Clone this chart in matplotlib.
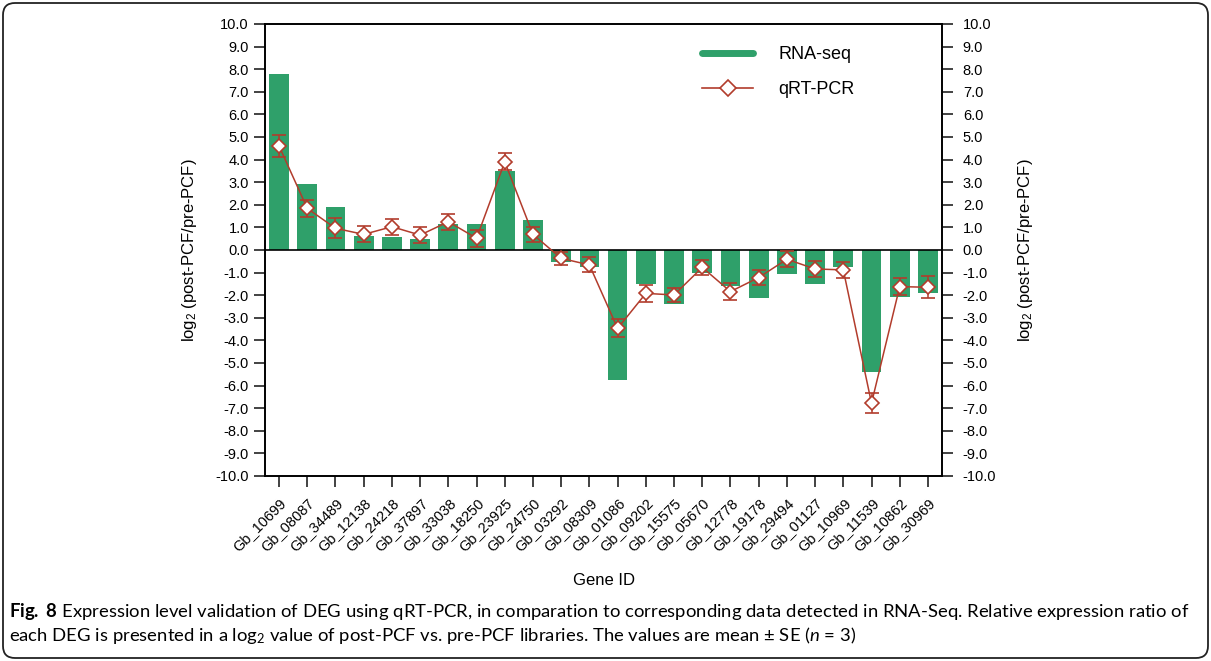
import numpy as np
import matplotlib
matplotlib.use('Agg')
import matplotlib.pyplot as plt
from matplotlib.lines import Line2D
from matplotlib.patches import FancyBboxPatch
from matplotlib.transforms import IdentityTransform

plt.rcParams['font.family'] = ['Liberation Sans', 'DejaVu Sans']
plt.rcParams['axes.unicode_minus'] = False
plt.rcParams['mathtext.fontset'] = 'custom'
plt.rcParams['mathtext.rm'] = 'Lato'
plt.rcParams['mathtext.it'] = 'Lato:italic'
plt.rcParams['mathtext.bf'] = 'Lato:bold'

genes = ['Gb_10699', 'Gb_08087', 'Gb_34489', 'Gb_12138', 'Gb_24218', 'Gb_37897',
         'Gb_33038', 'Gb_18250', 'Gb_23925', 'Gb_24750', 'Gb_03292', 'Gb_08309',
         'Gb_01086', 'Gb_09202', 'Gb_15575', 'Gb_05670', 'Gb_12778', 'Gb_19178',
         'Gb_29494', 'Gb_01127', 'Gb_10969', 'Gb_11539', 'Gb_10862', 'Gb_30969']
rna_seq = [7.78, 2.9, 1.92, 0.6, 0.58, 0.5, 1.14, 1.14, 3.51, 1.33, -0.52, -0.74,
           -5.75, -1.52, -2.4, -1.03, -1.59, -2.11, -1.08, -1.52, -0.74, -5.4, -2.06, -1.92]
qrt_pcr = [4.6, 1.84, 0.96, 0.69, 1.03, 0.66, 1.25, 0.52, 3.9, 0.69, -0.37, -0.66,
           -3.47, -1.92, -1.99, -0.77, -1.84, -1.22, -0.41, -0.84, -0.88, -6.78, -1.62, -1.65]
qrt_se = [0.48, 0.38, 0.44, 0.35, 0.36, 0.35, 0.35, 0.38, 0.38, 0.33, 0.3, 0.33,
          0.4, 0.39, 0.33, 0.34, 0.38, 0.35, 0.35, 0.35, 0.35, 0.43, 0.37, 0.49]
yticks = np.arange(-10, 10.5, 1.0)

green = '#2fa06a'
red = '#b23c2c'

fig = plt.figure(figsize=(12.11, 6.61), dpi=100)
ax = fig.add_axes([0.2188, 0.2799, 0.5591, 0.6838])

x = np.arange(len(genes))
ax.bar(x, rna_seq, width=0.7, color=green, zorder=2)
ax.axhline(0, color='black', lw=1.2, zorder=3)
ax.errorbar(x, qrt_pcr, yerr=qrt_se, color=red, lw=1.1, elinewidth=1.1,
            capsize=5, capthick=1.1, marker='D', ms=7.5, mfc='white', mec=red,
            mew=1.2, zorder=4)

ax.set_xlim(-0.5, len(genes) - 0.5)
ax.set_ylim(-10, 10)
ax.set_yticks(yticks)
ax.set_yticklabels([f'{v:.1f}' for v in yticks], fontsize=10.5)
ax.set_xticks(x)
ax.set_xticklabels(genes, rotation=45, ha='right', va='top', rotation_mode='anchor', fontsize=10.5)
ax.tick_params(axis='both', direction='out', length=8, width=1.2, color='#222222')
ax.tick_params(axis='x', pad=6)
for s in ax.spines.values():
    s.set_linewidth(1.2)
ax.set_ylabel(r'$\mathregular{log_2}$ (post-PCF/pre-PCF)', fontsize=12, labelpad=12)
ax.set_xlabel('Gene ID', fontsize=12, labelpad=14)

ax2 = ax.twinx()
ax2.set_ylim(-10, 10)
ax2.set_yticks(yticks)
ax2.set_yticklabels([f'{v:.1f}' for v in yticks], fontsize=10.5)
ax2.tick_params(axis='y', direction='out', length=8, width=1.2, color='#222222', pad=7)
ax2.set_ylabel(r'$\mathregular{log_2}$ (post-PCF/pre-PCF)', fontsize=12, labelpad=14)
for s in ax2.spines.values():
    s.set_linewidth(1.2)

handles = [Line2D([], [], color=green, lw=5, solid_capstyle='round'),
           Line2D([], [], color=red, lw=1.2, marker='D', ms=8, mfc='white', mec=red, mew=1.2)]
fig.legend(handles, ['RNA-seq', 'qRT-PCR'], loc='upper left', bbox_to_anchor=(0.58, 0.93),
           frameon=False, fontsize=13, handlelength=2.8, handletextpad=1.4,
           labelspacing=1.0, borderpad=0, borderaxespad=0)

cap1 = (r'$\mathbf{Fig.}$ $\mathbf{8}$ Expression level validation of DEG using qRT-PCR, in comparation to '
        r'corresponding data detected in RNA-Seq. Relative expression ratio of')
cap2 = (r'each DEG is presented in a log$_2$ value of post-PCF vs. pre-PCF libraries. '
        r'The values are mean $\pm$ SE ($\mathit{n}$ = 3)')
fig.text(9 / 1211, 1 - 612 / 661, cap1, family='Lato', fontsize=13.3, va='center', ha='left')
fig.text(9 / 1211, 1 - 635 / 661, cap2, family='Lato', fontsize=13.3, va='center', ha='left')

fig.patches.append(FancyBboxPatch((3, 3), 1205, 655, boxstyle='round,pad=0,rounding_size=12',
                                  transform=IdentityTransform(), fill=False,
                                  edgecolor='#222222', lw=1.3))

fig.savefig('out.png', dpi=100)
